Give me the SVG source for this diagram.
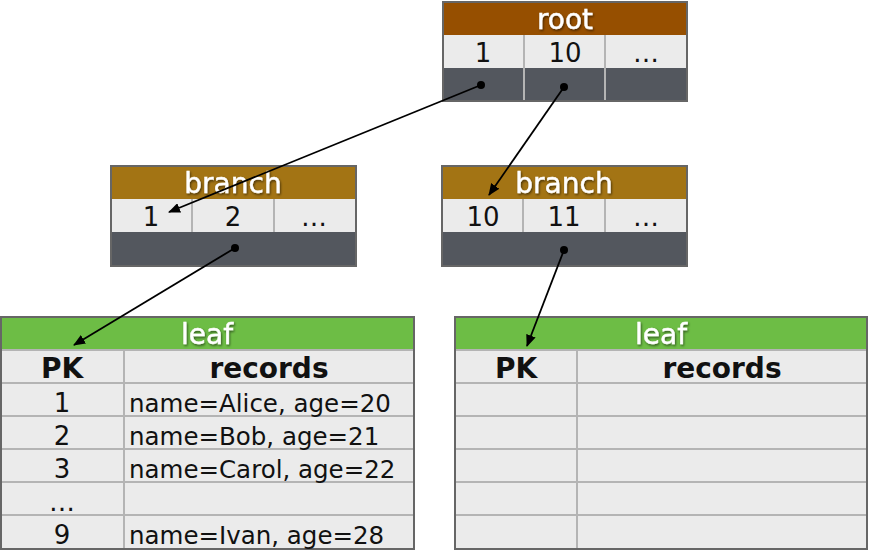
<svg xmlns="http://www.w3.org/2000/svg" width="870" height="551" viewBox="0 0 870 551">
<defs>
<style>
.frame{fill:none;stroke:#666;stroke-width:2}
.cell{fill:#ebebeb}
.dark{fill:#53575e}
.div{stroke:#b4b4b4;stroke-width:2}
.hdr{font-family:"DejaVu Sans",sans-serif;font-size:28px;fill:#fff;stroke:#fff;stroke-width:0.4;text-anchor:middle;filter:url(#sh)}
.num{font-family:"DejaVu Sans",sans-serif;font-size:26px;fill:#111;text-anchor:middle}
.rec{font-family:"DejaVu Sans",sans-serif;font-size:24.5px;fill:#111}
.bold{font-family:"DejaVu Sans",sans-serif;font-size:28px;font-weight:bold;fill:#111;text-anchor:middle}
.conn{stroke:#000;stroke-width:1.8;fill:none;marker-end:url(#ah)}
</style>
<filter id="sh" x="-20%" y="-30%" width="140%" height="160%">
<feDropShadow dx="1" dy="1.5" stdDeviation="1.2" flood-color="#000" flood-opacity="0.55"/>
</filter>
<marker id="ah" markerWidth="12" markerHeight="10" refX="11" refY="5" orient="auto" markerUnits="userSpaceOnUse">
<path d="M0,0 L12,5 L0,10 z" fill="#000"/>
</marker>
</defs>

<g id="root">
<rect x="443" y="2" width="244" height="33" fill="#964f00"/>
<rect class="cell" x="443" y="35" width="244" height="33"/>
<rect class="dark" x="443" y="68" width="244" height="33"/>
<line class="div" x1="524" y1="35" x2="524" y2="101"/>
<line class="div" x1="605" y1="35" x2="605" y2="101"/>
<rect class="frame" x="443" y="2" width="244" height="99"/>
<text class="hdr" x="565" y="29">root</text>
<text class="num" x="483" y="62">1</text>
<text class="num" x="565" y="62">10</text>
<text class="num" x="646" y="62">…</text>
</g>

<g id="branch-left">
<rect x="111" y="166" width="245" height="33" fill="#a37414"/>
<rect class="cell" x="111" y="199" width="245" height="33"/>
<rect class="dark" x="111" y="232" width="245" height="34"/>
<line class="div" x1="192" y1="199" x2="192" y2="232"/>
<line class="div" x1="274" y1="199" x2="274" y2="232"/>
<rect class="frame" x="111" y="166" width="245" height="100"/>
<text class="hdr" x="233" y="193">branch</text>
<text class="num" x="151" y="226">1</text>
<text class="num" x="233" y="226">2</text>
<text class="num" x="314" y="226">…</text>
</g>

<g id="branch-right">
<rect x="442" y="166" width="245" height="33" fill="#a37414"/>
<rect class="cell" x="442" y="199" width="245" height="33"/>
<rect class="dark" x="442" y="232" width="245" height="34"/>
<line class="div" x1="523" y1="199" x2="523" y2="232"/>
<line class="div" x1="605" y1="199" x2="605" y2="232"/>
<rect class="frame" x="442" y="166" width="245" height="100"/>
<text class="hdr" x="564" y="193">branch</text>
<text class="num" x="483" y="226">10</text>
<text class="num" x="564" y="226">11</text>
<text class="num" x="646" y="226">…</text>
</g>

<g id="leaf-left">
<rect x="1" y="317" width="413" height="33" fill="#6dbd45"/>
<rect class="cell" x="1" y="350" width="413" height="199"/>
<line class="div" x1="1" y1="350" x2="414" y2="350"/>
<line class="div" x1="1" y1="383" x2="414" y2="383"/>
<line class="div" x1="1" y1="416" x2="414" y2="416"/>
<line class="div" x1="1" y1="449" x2="414" y2="449"/>
<line class="div" x1="1" y1="482" x2="414" y2="482"/>
<line class="div" x1="1" y1="515" x2="414" y2="515"/>
<line class="div" x1="124" y1="350" x2="124" y2="549"/>
<rect class="frame" x="1" y="317" width="413" height="232"/>
<text class="hdr" x="207" y="344">leaf</text>
<text class="bold" x="62" y="378">PK</text>
<text class="bold" x="269" y="378">records</text>
<text class="num" x="62" y="412">1</text>
<text class="rec" x="129" y="412">name=Alice, age=20</text>
<text class="num" x="62" y="445">2</text>
<text class="rec" x="129" y="445">name=Bob, age=21</text>
<text class="num" x="62" y="478">3</text>
<text class="rec" x="129" y="478">name=Carol, age=22</text>
<text class="num" x="62" y="511">…</text>
<text class="num" x="62" y="544">9</text>
<text class="rec" x="129" y="544">name=Ivan, age=28</text>
</g>

<g id="leaf-right">
<rect x="455" y="317" width="412" height="33" fill="#6dbd45"/>
<rect class="cell" x="455" y="350" width="412" height="199"/>
<line class="div" x1="455" y1="350" x2="867" y2="350"/>
<line class="div" x1="455" y1="383" x2="867" y2="383"/>
<line class="div" x1="455" y1="416" x2="867" y2="416"/>
<line class="div" x1="455" y1="449" x2="867" y2="449"/>
<line class="div" x1="455" y1="482" x2="867" y2="482"/>
<line class="div" x1="455" y1="515" x2="867" y2="515"/>
<line class="div" x1="577" y1="350" x2="577" y2="549"/>
<rect class="frame" x="455" y="317" width="412" height="232"/>
<text class="hdr" x="661" y="344">leaf</text>
<text class="bold" x="516" y="378">PK</text>
<text class="bold" x="722" y="378">records</text>
</g>

<g id="connectors">
<line class="conn" x1="481" y1="85" x2="169" y2="212"/>
<line class="conn" x1="564" y1="87" x2="489" y2="195"/>
<line class="conn" x1="235" y1="248" x2="74" y2="345"/>
<line class="conn" x1="564" y1="250" x2="527" y2="346"/>
<circle cx="481" cy="85" r="4"/>
<circle cx="564" cy="87" r="4"/>
<circle cx="235" cy="248" r="4"/>
<circle cx="564" cy="250" r="4"/>
</g>
</svg>
